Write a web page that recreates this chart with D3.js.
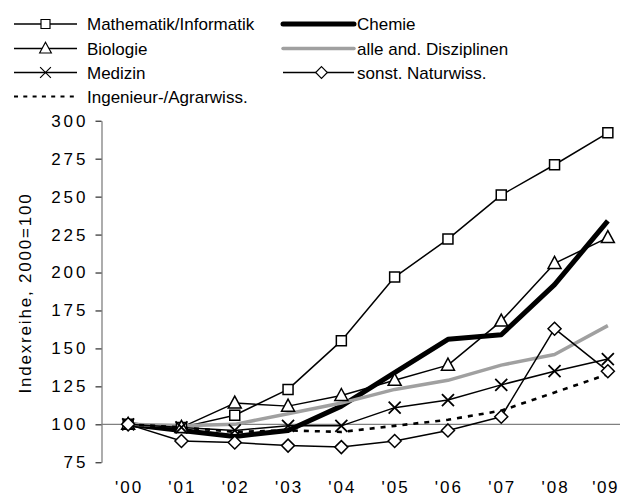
<!DOCTYPE html>
<html>
<head>
<meta charset="utf-8">
<script src="https://cdn.jsdelivr.net/npm/d3@7"></script>
<style>
  body { margin: 0; background: #fff; }
  svg { display: block; font-family: Arial, "Liberation Sans", sans-serif; }
</style>
</head>
<body>
<svg id="chart" width="620" height="497"></svg>
<script>
// 年份（类别）
const years = ["'00", "'01", "'02", "'03", "'04", "'05", "'06", "'07", "'08", "'09"];
const yTicks = [75, 100, 125, 150, 175, 200, 225, 250, 275, 300];

// 各学科指数值（2000=100）
const mathInf = [100, 98, 106, 123, 155, 197, 222, 251, 271, 292];
const chemie = [100, 96, 92, 96, 112, 134, 156, 159, 192, 234];
const biologie = [100, 98, 114, 112, 119, 129, 139, 168, 206, 223];
const alleAnd = [100, 99, 100, 107, 114, 123, 129, 139, 146, 165];
const medizin = [100, 98, 96, 99, 99, 111, 116, 126, 135, 143];
const sonstNat = [100, 89, 88, 86, 85, 89, 96, 105, 163, 135];
const ingAgrar = [100, 98, 95, 96, 95, 99, 103, 109, 121, 133];

const series = [
  { name: "Mathematik/Informatik", values: mathInf, color: "#000", width: 1.5, marker: "square", col: 0, row: 0 },
  { name: "Chemie", values: chemie, color: "#000", width: 5, marker: null, col: 1, row: 0 },
  { name: "Biologie", values: biologie, color: "#000", width: 1.5, marker: "triangle", col: 0, row: 1 },
  { name: "alle and. Disziplinen", values: alleAnd, color: "#a0a0a0", width: 3.5, marker: null, col: 1, row: 1 },
  { name: "Medizin", values: medizin, color: "#000", width: 1.5, marker: "cross", col: 0, row: 2 },
  { name: "sonst. Naturwiss.", values: sonstNat, color: "#000", width: 1.5, marker: "diamond", col: 1, row: 2 },
  { name: "Ingenieur-/Agrarwiss.", values: ingAgrar, color: "#000", width: 2.6, marker: null, dash: "5,6", col: 0, row: 3 }
];

const svg = d3.select("#chart");
const grey = "#808080";

const x = d3.scaleBand().domain(years).range([101.5, 101.5 + 10 * 53.3]);
const cx = d => x(d) + x.bandwidth() / 2;
const y = d3.scaleLinear().domain([75, 300]).range([462.3, 120.7]);

// 标记形状
function markerPath(type) {
  switch (type) {
    case "square": return "M-5,-5H5V5H-5Z";
    case "triangle": return "M0,-7L6.5,5H-6.5Z";
    case "cross": return "M-6,-6L6,6M6,-6L-6,6";
    case "diamond": return "M0,-6.5L6.5,0L0,6.5L-6.5,0Z";
  }
  return null;
}

// y 轴
const yAxis = svg.append("g")
  .attr("transform", "translate(101.5,0)")
  .call(d3.axisLeft(y).tickValues(yTicks).tickSize(6).tickPadding(7).tickSizeOuter(0));
yAxis.select(".domain").attr("stroke", grey).attr("stroke-width", 1.3);
yAxis.selectAll(".tick line").attr("stroke", "#000").attr("stroke-width", 1);
yAxis.selectAll(".tick text")
  .attr("fill", "#000")
  .style("font-size", "17px")
  .style("letter-spacing", "3px")
  .attr("font-family", "Arial, 'Liberation Sans', sans-serif");

// 100 基准线
svg.append("line")
  .attr("x1", 101.5).attr("x2", 620)
  .attr("y1", y(100)).attr("y2", y(100))
  .attr("stroke", grey).attr("stroke-width", 1.3);

// x 轴标签（最后一个贴右边缘）
svg.append("g").selectAll("text")
  .data(years)
  .join("text")
  .attr("x", (d, i) => i === years.length - 1 ? 619 : cx(d) + 1)
  .attr("y", 493)
  .attr("text-anchor", (d, i) => i === years.length - 1 ? "end" : "middle")
  .style("font-size", "17px")
  .style("letter-spacing", (d, i) => i === years.length - 1 ? "1.5px" : "2px")
  .text(d => d);

// y 轴标题
svg.append("text")
  .attr("transform", "translate(31,293) rotate(-90)")
  .attr("text-anchor", "middle")
  .style("font-size", "17px")
  .style("letter-spacing", "1.8px")
  .text("Indexreihe, 2000=100");

// 折线
const line = d3.line().x((d, i) => cx(years[i])).y(d => y(d));
const linesG = svg.append("g");
series.forEach(s => {
  linesG.append("path")
    .datum(s.values)
    .attr("d", line)
    .attr("fill", "none")
    .attr("stroke", s.color)
    .attr("stroke-width", s.width)
    .attr("stroke-linejoin", "round")
    .attr("stroke-dasharray", s.dash || null);
});

// 标记
const markersG = svg.append("g");
series.filter(s => s.marker).forEach(s => {
  markersG.selectAll(null)
    .data(s.values)
    .join("path")
    .attr("transform", (d, i) => `translate(${cx(years[i])},${y(d)})`)
    .attr("d", markerPath(s.marker))
    .attr("fill", "#fff")
    .attr("stroke", "#000")
    .attr("stroke-width", s.marker === "cross" ? 1.8 : 1.5);
});

// 图例
const legendCols = [{ x1: 14, x2: 77, tx: 87 }, { x1: 283, x2: 354, tx: 357 }];
const rowY = [24, 48.5, 72.5, 96.5];
const legend = svg.append("g");
series.forEach(s => {
  const c = legendCols[s.col];
  const yy = rowY[s.row];
  legend.append("line")
    .attr("x1", c.x1).attr("x2", c.x2)
    .attr("y1", yy).attr("y2", yy)
    .attr("stroke", s.color)
    .attr("stroke-width", s.dash ? 1.8 : (s.width > 3 ? s.width : 1.5))
    .attr("stroke-dasharray", s.dash ? "4,5.3" : null)
    .attr("stroke-linecap", s.width > 3 ? "round" : "butt");
  if (s.marker) {
    legend.append("path")
      .attr("d", markerPath(s.marker))
      .attr("fill", "#fff")
      .attr("stroke", "#000")
      .attr("stroke-width", 1.3)
      .attr("transform", `translate(${(c.x1 + c.x2) / 2 + (s.col ? 3 : 0)},${yy}) scale(0.9)`);
  }
  legend.append("text")
    .attr("x", c.tx)
    .attr("y", yy + 6)
    .style("font-size", "17px")
    .text(s.name);
});
</script>
</body>
</html>
